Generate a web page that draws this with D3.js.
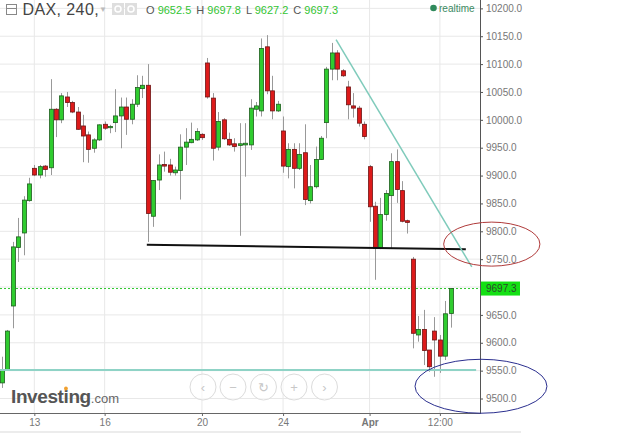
<!DOCTYPE html>
<html><head><meta charset="utf-8">
<script src="https://cdn.jsdelivr.net/npm/d3@7"></script>
<style>html,body{margin:0;padding:0;background:#fff;} svg{display:block;font-family:Arial,"Liberation Sans",sans-serif;}</style>
</head><body><svg id="c" width="629" height="439"></svg>
<script>
// ---- data (DAX, 240 min candles) ----
const opens  = [9528,9552,9666,9771,9797,9855,9913,9901,9917,9914,10019,10000,10041,10031,10014,9989,9973,9949,9964,9992,9986,9995,10007,10023,10001,10028,10056,10062,9827,9892,9920,9919,9905,9909,9951,9959,9964,9974,10102,10039,9951,10000,9965,9957,9954,9955,9955,10019,10016,10131,10052,10016,9980,9916,9947,9913,9941,9855,9880,9929,9995,10091,10120,10088,10059,10025,10021,9992,9916,9845,9769,9830,9864,9925,9873,9819,9750,9614,9624,9587,9621,9605,9576,9652.5];
const highs  = [9575,9623,9781,9824,9863,9896,9919,9919,9919,10073,10021,10048,10050,10034,10023,10009,9979,9967,9992,9997,9991,10055,10040,10040,10037,10080,10079,10100,9892,9938,9943,9930,9916,9974,9985,9995,9985,9976,10111,10048,10014,10003,9977,9967,9994,9994,10037,10032,10146,10152,10079,10034,10006,9958,9958,9958,9992,9919,9952,9971,10095,10138,10125,10091,10070,10048,10025,9997,9919,9853,9860,9874,9940,9947,9890,9821,9754,9648,9659,9587,9646,9614,9675,9697.8];
const lows   = [9519,9550,9626,9745,9757,9853,9899,9895,9898,9901,9969,9994,10023,10012,9982,9924,9923,9941,9962,9982,9976,9978,9949,9973,9992,10023,10039,9781,9808,9874,9907,9900,9900,9857,9919,9958,9962,9964,10038,9927,9945,9964,9953,9943,9792,9898,9946,10006,10006,10046,10001,10014,9905,9895,9877,9910,9847,9850,9877,9928,9967,10071,10071,10077,10001,10004,9988,9965,9817,9713,9768,9819,9769,9851,9816,9796,9590,9602,9560,9548,9539,9546,9569,9627.2];
const closes = [9551,9621,9772,9790,9856,9885,9901,9916,9911,10019,10000,10043,10031,10014,9983,9971,9947,9964,9991,9985,9988,10007,10023,10001,10028,10058,10062,9832,9891,9919,9917,9906,9910,9951,9960,9965,9979,9968,10041,9949,9997,9966,9955,9952,9957,9958,10021,10025,10128,10052,10016,10028,9917,9947,9913,9938,9857,9880,9929,9967,10091,10120,10091,10079,10027,10021,9994,9970,9844,9769,9830,9868,9925,9875,9818,9816,9617,9624,9586,9557,9605,9576,9652,9697.3];

const yTicks = [9500,9550,9600,9650,9700,9750,9800,9850,9900,9950,10000,10050,10100,10150,10200];
const xTickIndex  = [6, 19, 37, 52, 68, 81];
const xTickLabels = ["13", "16", "20", "24", "Apr", "12:00"];

const header = {symbol: "DAX, 240,", O: "9652.5", H: "9697.8", L: "9627.2", C: "9697.3"};
const lastPrice = 9697.3;

// drawn annotations, in (candle index, price) space
const supportLine = [[26.8, 9776], [85.8, 9768]];
const trendLine   = [[61.8, 10144], [86.9, 9736]];
const baseLine    = [[-0.4, 9551], [87.7, 9551]];
const ellipses = [
  {cx: 90.6, cy: 9777, rx: 8.9, ry: 39.5, color: "#b03a3a"},
  {cx: 88.6, cy: 9522, rx: 12.2, ry: 48.4, color: "#2b2f8f"}
];

// ---- layout ----
const svg = d3.select("#c");
const plotW = 480, plotH = 413;
const x = d3.scaleLinear().domain([0, 83]).range([1.9, 450.7]);
const y = d3.scaleLinear().domain([9474, 10215]).range([plotH, 0]);

// grid
const g = svg.append("g");
g.selectAll("line.hg").data(yTicks).join("line")
  .attr("x1", 0).attr("x2", plotW).attr("y1", d => y(d)).attr("y2", d => y(d))
  .attr("stroke", "#e8e8e8").attr("stroke-width", 1);
g.selectAll("line.vg").data(xTickIndex).join("line")
  .attr("x1", d => x(d)).attr("x2", d => x(d)).attr("y1", 0).attr("y2", plotH)
  .attr("stroke", "#e8e8e8").attr("stroke-width", 1);

// bottom strip
svg.append("rect").attr("x", 0).attr("y", 431).attr("width", 521).attr("height", 2).attr("fill", "#ececec");

// last price dotted line
svg.append("line").attr("x1", 0).attr("x2", plotW).attr("y1", y(lastPrice)).attr("y2", y(lastPrice))
  .attr("stroke", "#2ec92e").attr("stroke-width", 1).attr("stroke-dasharray", "2,2");

// candles
const idx = d3.range(opens.length);
const cg = svg.append("g");
cg.selectAll("line.wick").data(idx).join("line")
  .attr("x1", i => Math.round(x(i)) + 0.5).attr("x2", i => Math.round(x(i)) + 0.5)
  .attr("y1", i => y(highs[i])).attr("y2", i => y(lows[i]))
  .attr("stroke", "#999").attr("stroke-width", 1);
cg.selectAll("rect.body").data(idx).join("rect")
  .attr("x", i => Math.round(x(i)) - 1.5)
  .attr("width", 4)
  .attr("y", i => y(Math.max(opens[i], closes[i])))
  .attr("height", i => Math.max(1.2, Math.abs(y(opens[i]) - y(closes[i]))))
  .attr("fill", i => closes[i] >= opens[i] ? "#2fcc2f" : "#dd1a1a")
  .attr("stroke", i => closes[i] >= opens[i] ? "#1e5e1e" : "#6e1414")
  .attr("stroke-width", 0.8);

// annotation lines
const line = d3.line().x(d => x(d[0])).y(d => y(d[1]));
svg.append("path").attr("d", line(baseLine)).attr("stroke", "#8fd3c6").attr("stroke-width", 2).attr("fill", "none");
svg.append("path").attr("d", line(supportLine)).attr("stroke", "#111").attr("stroke-width", 2).attr("fill", "none");
svg.append("path").attr("d", line(trendLine)).attr("stroke", "#7fcbbb").attr("stroke-width", 1.5).attr("fill", "none");

// price axis
const ya = svg.append("g").attr("transform", `translate(${plotW},0)`)
  .call(d3.axisRight(y).tickValues(yTicks).tickSize(3).tickPadding(3).tickFormat(d3.format(".1f")));
ya.select(".domain").remove();
ya.selectAll(".tick line").attr("stroke", "#555");
ya.selectAll(".tick text").attr("fill", "#777").attr("font-size", 10).attr("font-family", "Arial, 'Liberation Sans', sans-serif");
svg.append("line").attr("x1", plotW + 0.5).attr("x2", plotW + 0.5).attr("y1", 0).attr("y2", plotH)
  .attr("stroke", "#555").attr("stroke-width", 1);

// time axis
const xa = svg.append("g").attr("transform", `translate(0,${plotH})`)
  .call(d3.axisBottom(x).tickValues(xTickIndex).tickSize(3).tickPadding(3).tickFormat((d, i) => xTickLabels[i]));
xa.select(".domain").remove();
xa.selectAll(".tick line").attr("stroke", "#666");
xa.selectAll(".tick text").attr("fill", "#777").attr("font-size", 10).attr("font-family", "Arial, 'Liberation Sans', sans-serif")
  .attr("font-weight", (d, i) => xTickLabels[i] === "Apr" ? "bold" : "normal");
svg.append("line").attr("x1", 0).attr("x2", plotW + 1).attr("y1", plotH + 0.5).attr("y2", plotH + 0.5)
  .attr("stroke", "#666").attr("stroke-width", 1);

// last price tag
const tag = svg.append("g").attr("transform", `translate(${plotW + 1},${y(lastPrice)})`);
tag.append("rect").attr("x", 0).attr("y", -7).attr("width", 39).attr("height", 14).attr("fill", "#14e014");
tag.append("text").attr("x", 5).attr("y", 3.6).attr("font-size", 10).attr("fill", "#2a4a2a").text(d3.format(".1f")(lastPrice));

// ellipses
svg.selectAll("ellipse.ann").data(ellipses).join("ellipse")
  .attr("cx", d => x(d.cx)).attr("cy", d => y(d.cy))
  .attr("rx", d => x(d.cx + d.rx) - x(d.cx)).attr("ry", d => y(d.cy) - y(d.cy + d.ry))
  .attr("fill", "none").attr("stroke", d => d.color).attr("stroke-width", 1);

// header
const hd = svg.append("g");
hd.append("rect").attr("x", 6.5).attr("y", 4.5).attr("width", 10).attr("height", 10).attr("fill", "none").attr("stroke", "#888");
hd.append("line").attr("x1", 6.5).attr("x2", 16.5).attr("y1", 8.5).attr("y2", 8.5).attr("stroke", "#888");
hd.append("text").attr("x", 22.5).attr("y", 15).attr("font-size", 16).attr("letter-spacing", 0.4).attr("fill", "#444").text(header.symbol);
hd.append("text").attr("x", 99).attr("y", 12).attr("font-size", 8).attr("fill", "#bbb").text("▼");
[112, 125].forEach(px => {
  hd.append("rect").attr("x", px).attr("y", 3).attr("width", 12).attr("height", 12).attr("fill", "#dedede");
  hd.append("circle").attr("cx", px + 6).attr("cy", 9).attr("r", 3).attr("fill", "none").attr("stroke", "#fff").attr("stroke-width", 1.5);
});
const ohlc = hd.append("text").attr("x", 146).attr("y", 14).attr("font-size", 11);
[["O", header.O], ["H", header.H], ["L", header.L], ["C", header.C]].forEach(([k, v], i) => {
  ohlc.append("tspan").attr("fill", "#555").attr("dx", i ? 5 : 0).text(k + " ");
  ohlc.append("tspan").attr("fill", "#33c433").text(v);
});
hd.append("circle").attr("cx", 433.5).attr("cy", 8).attr("r", 3.3).attr("fill", "#2f8a5c");
hd.append("text").attr("x", 439).attr("y", 11.5).attr("font-size", 10).attr("fill", "#3c8a62").text("realtime");

// logo
const logo = svg.append("text").attr("x", 11).attr("y", 402.5);
const inv = logo.append("tspan").attr("font-size", 19).attr("font-weight", "bold").attr("fill", "#555").attr("letter-spacing", -0.4).text("Investing");
logo.append("tspan").attr("font-size", 13).attr("fill", "#666").text(".com");
try {
  const n = logo.node();
  const s = n.getStartPositionOfChar(6), e = n.getEndPositionOfChar(6);
  svg.append("circle").attr("cx", (s.x + e.x) / 2).attr("cy", 388.5).attr("r", 1.9).attr("fill", "#f0a030");
} catch (err) {}

// navigation buttons
const navIcons = ["‹", "−", "↻", "+", "›"];
const navX = [203, 233, 263.5, 294, 324.5];
const nav = svg.append("g");
navIcons.forEach((t, i) => {
  nav.append("circle").attr("cx", navX[i]).attr("cy", 387).attr("r", 13).attr("fill", "#fff").attr("fill-opacity", 0.6)
    .attr("stroke", "#dcdcdc").attr("stroke-width", 1);
  nav.append("text").attr("x", navX[i]).attr("y", 391.5).attr("text-anchor", "middle").attr("font-size", 13).attr("fill", "#c8c8c8").text(t);
});
</script></body></html>
